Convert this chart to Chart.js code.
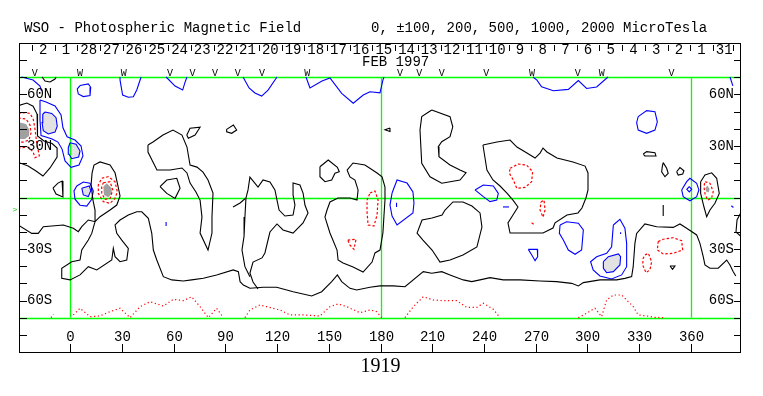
<!DOCTYPE html>
<html><head><meta charset="utf-8">
<script src="https://cdn.jsdelivr.net/npm/chart.js@4.4.1/dist/chart.umd.min.js"></script>
<style>html,body{margin:0;padding:0;background:#fff;}canvas{display:block;}</style>
</head><body>
<canvas id="c" width="763" height="396"></canvas>
<script>
// ---- axis / label data ----
const lonTicks = [0,30,60,90,120,150,180,210,240,270,300,330,360];
const latTicks = [-80,-70,-60,-50,-40,-30,-20,-10,0,10,20,30,40,50,60,70,80];
const latLabels = [[60,'60N'],[30,'30N'],[-30,'30S'],[-60,'60S']];
const gridLons = [0,180,360];
const gridLats = [70,0,-70];
const dayLabels = ['2','1','28','27','26','25','24','23','22','21','20','19','18','17','16','15','14','13','12','11','10','9','8','7','6','5','4','3','2','1','31'];
const dayLons = [-15.5,-2.3,10.8,24.0,37.1,50.3,63.5,76.6,89.8,102.9,116.1,129.3,142.4,155.6,168.7,181.9,195.1,208.2,221.4,234.5,247.7,260.9,274.0,287.2,300.3,313.5,326.7,339.8,353.0,366.1,379.3];
const obsLons = [-20.5,5.8,31.2,58,71,84,97.2,111.3,137.6,191.3,202.5,215.5,241.3,267.8,294.3,308.3,348.7];
const obsMarks = ['V','W','W','V','V','V','V','V','W','V','V','V','V','W','V','W','V'];
const titleLeft = 'WSO - Photospheric Magnetic Field';
const titleRight = '0, \u00B1100, 200, 500, 1000, 2000 MicroTesla';
const monthLabel = ['FEB 1997', 188.4];
const rotationLabel = ['1919', 180];
const b0Lat = -7;

// ---- contour data [longitude, latitude] ----
const neutralLines = [
 [[-30,53.5],[-25,55],[-21.4,53.2],[-19.1,48.6],[-19.1,42.2],[-18.6,35.8],[-15.1,32.9],[-10.4,31.4],[-7.5,28.8],[-7.5,23.6],[-11.6,17.2],[-15.7,12.5],[-19.7,15.4],[-24.3,18.3],[-30,20.5]],
 [[-9.9,5.5],[-7,8.4],[-4.6,9.6],[-4.1,4.4],[-4.1,0.3],[-8.1,2],[-9.9,5.5]],
 [[-30,-16.0],[-22.2,-20.9],[-18.4,-20.9],[-15.5,-17.0],[-3.9,-16.0],[1.9,-17.9],[4.8,-19.9],[6.8,-17.0],[10.6,-13.1],[14.5,-14.1],[17.4,-11.2],[23.2,-7.3],[27.1,-4.4],[29.0,0.9],[27.8,6.7],[26.1,14.4],[23.2,18.9],[17.4,20.7],[13.9,18.9],[12.8,14.3],[12.2,7.3],[13.3,-1.5],[14.5,-7.3],[14.5,-14.1],[12.6,-20.9],[10.6,-24.8],[6.8,-30.6],[5.8,-36.4],[1.0,-37.4],[-4.8,-41.2],[-4.8,-47.0],[0,-48.0],[5.8,-45.1],[10.6,-40.3],[15.5,-42.2],[24.2,-36.4],[25.1,-29.6],[26.1,-34.5],[29.0,-37.4],[32.9,-36.4],[33.8,-29.6],[30.0,-24.8],[27.1,-20.9],[26.1,-16.0],[29.0,-13.1],[33.8,-10.2],[38.7,-8.3],[41.6,-8.3],[45.4,-12.1],[47.4,-20.9],[48.3,-30.6],[50.3,-36.4],[54.1,-46.1],[59.0,-48.0],[65.7,-48.6],[70.5,-48.0],[77.3,-47.0],[85.0,-45.1],[94.6,-42.2],[97.6,-43.2],[98.6,-49.0],[100.5,-51.0],[104.3,-52.9],[112.1,-52.3],[119.8,-52.3],[129.4,-54.9],[140.1,-57.4],[145.9,-54.9],[151.7,-49.0],[155.0,-45.1],[157.5,-49.0],[162.3,-52.9],[166.2,-53.9],[173.9,-52.3],[179.7,-51.5],[187.4,-51.5],[194.2,-52.0],[204.8,-43.2],[209.7,-44.1],[215.5,-43.2],[220.3,-45.1],[228.0,-48.0],[232.9,-49.0],[237.7,-48.0],[243.5,-46.7],[251.2,-48.0],[260.9,-48.0],[272.5,-48.6],[282.1,-49.0],[290.8,-50.0],[294.7,-51.5],[297.6,-49.6],[307.2,-48.0],[316.9,-48.0],[321.7,-47.1],[325.6,-46.1],[326.5,-40.3],[327.5,-26.7],[328.5,-20.9],[333.3,-15.4],[340.1,-17.0],[349.7,-17.4],[353.6,-15.4],[357.5,-17.9],[363.3,-21.8],[365.2,-26.7],[367.1,-34.5],[368.1,-39.3],[371.0,-41.2],[375.8,-41.2],[380.7,-36.4],[382.6,-39.3],[384.5,-43.2],[386,-45.7]],
 [[45.2,30.6],[48.1,32.3],[53.9,36.4],[59.7,39.3],[64.9,36.4],[67.8,29.4],[69.6,18.9],[73.6,17.7],[77.1,14.8],[80.0,10.2],[82.9,2.6],[82.3,-11.4],[82.3,-20.7],[80.0,-30.6],[75.4,-20.7],[76.5,-11.4],[75.4,-1.5],[73.0,3.2],[69.6,8.4],[67.8,14.3],[64.9,17.2],[58.0,16.0],[50.4,16.0],[47.5,21.8],[45.2,26.5],[45.2,30.6]],
 [[67.7,36.4],[69.6,40.3],[75.4,40.9],[72.5,36.4],[68.6,34.5],[67.7,36.4]],
 [[90.8,39.7],[94.7,42.2],[96.6,39.3],[93.7,37.4],[90.8,38.3],[90.8,39.7]],
 [[52.2,6.3],[56.1,10.2],[61.9,11.2],[63.8,5.4],[60.9,-0.5],[56.1,2.4],[52.2,6.3]],
 [[144.9,17.9],[149.7,21.8],[155.0,17.6],[156.1,15.0],[153.6,14.1],[151.7,10.2],[147.8,9.2],[144.9,12.1],[144.9,17.9]],
 [[94.5,-5.5],[98.6,-3.2],[102.0,-0.3],[103.2,4.4],[104.3,11.9],[109.0,6.1],[111.9,10.2],[115.9,9.0],[118.8,4.4],[120.0,-1.5],[121.2,-7.3],[124.6,-10.8],[129.3,-10.2],[130.4,-4.4],[129.3,1.5],[129.3,8.4],[133.3,7.3],[135.1,2.6],[136.2,-4.4],[138.0,-9.0],[135.1,-14.8],[129.3,-20.7],[123.5,-18.9],[120.0,-15.4],[115.9,-20.1],[113.0,-32.3],[111.3,-35.2],[106.1,-37.6],[104.3,-44.0],[106.1,-49.2],[109,-53.3]],
 [[102.0,-0.3],[101.4,-11.4],[100.9,-22.5],[99.7,-30.6],[101.4,-40.3],[104.3,-46.1]],
 [[160.6,16.0],[164.1,20.1],[171.0,18.9],[178.0,14.3],[180.9,12.0],[182.6,6.1],[182.6,-1.5],[182.0,-10.8],[181.4,-20.7],[179.7,-30.6],[176.8,-32.3],[175.1,-37.6],[169.9,-43.4],[164.1,-40.5],[158.3,-38.1],[155.4,-36.4],[154.8,-30.6],[150.7,-20.7],[147.8,-11.4],[149.0,-7.3],[150.7,-2.6],[155.4,-0.3],[162.3,-0.3],[166.4,-1.5],[167.0,4.4],[165.2,10.2],[162.3,12.0],[160.6,16.0]],
 [[209.7,51.0],[220.3,47.1],[221.9,41.2],[220.3,35.4],[215.5,32.5],[213.5,29.6],[213.9,23.8],[220.3,18.9],[226.1,16.0],[229.6,14.4],[226.1,10.2],[215.5,8.3],[208.7,12.1],[203.9,19.9],[202.9,39.3],[203.9,47.1],[209.7,51.0]],
 [[217.4,-7.3],[222.0,-2.6],[227.8,-2.6],[233.0,-5.0],[237.7,-9.0],[238.8,-17.2],[235.9,-28.8],[227.8,-33.5],[220.3,-36.4],[214.5,-37.6],[209.9,-30.6],[204.6,-24.8],[201.2,-20.7],[204.1,-13.1],[209.9,-11.9],[215.7,-10.2],[217.4,-7.3]],
 [[239.4,30.6],[247.5,32.3],[255.1,33.5],[259.1,29.4],[264.9,25.9],[269.6,23.0],[272.5,25.9],[274.2,28.8],[276.5,26.5],[282.3,23.0],[291.6,20.7],[298.6,18.3],[300.3,14.3],[300.3,4.4],[299.1,-0.3],[296.8,-6.1],[294.5,-9.0],[288.1,-10.2],[281.2,-14.8],[280.0,-17.8],[274.2,-20.7],[260.9,-20.7],[255.1,-20.7],[253.9,-14.8],[256.8,-10.2],[259.7,-5.5],[256.8,-1.5],[253.3,2.6],[249.3,6.7],[245.2,10.2],[241.7,16.0],[239.4,30.6]],
 [[332.3,25.3],[334.3,26.7],[339.1,26.1],[339.7,24.2],[333.3,24.2],[332.3,25.3]],
 [[343.9,20.3],[345.9,17.0],[346.8,14.1],[344.9,12.1],[343.0,15.0],[343.4,18.3],[343.9,20.3]],
 [[351.7,15.0],[353.6,17.4],[355.9,15.6],[355.2,13.7],[352.6,13.1],[351.7,15.0]],
 [[365.6,9.2],[368.1,13.1],[372.0,14.4],[374.9,11.2],[376.4,2.4],[373.9,-3.4],[371.0,-7.3],[369.1,-11.2],[367.5,-5.4],[365.6,2.4],[365.6,9.2]],
 [[390,-6.7],[386.7,-13.1],[386.1,-20.1],[390,-23.6]],
 [[343.9,-4.4],[343.9,-10.8]],
 [[347.8,-39.9],[350.7,-39.9],[349.3,-41.8],[347.8,-39.9]],
 [[185.5,40.5],[182.6,39.5],[185.5,38.5],[185.5,40.5]],
 [[-16.2,70.2],[-14.5,67.8],[-11.6,67.3],[-8.7,69.0],[-8.1,70.2]]
];
const positiveLines = [
 [[-28,70.2],[-21.4,68.4],[-17.4,64.9],[-16.5,62]],
 [[-17.4,56.8],[-13.9,55.6],[-8.7,53.3],[-5.2,48.1],[-4.1,40.6],[-1.7,35.4],[2.9,33.5],[6.4,30.0],[7.5,24.2],[5.2,18.9],[0.6,17.6],[-2.9,21.3],[-4.6,28.2],[-7.0,32.3],[-10.4,34.1],[-13.9,35.2],[-16.8,36.1],[-17.4,45.1],[-17.4,56.8]],
 [[-14.5,49.8],[-10.6,49.0],[-8.1,46.5],[-7.4,41.6],[-8.7,38.1],[-12.6,37.0],[-15.5,38.9],[-16.2,43.6],[-15.8,48.5],[-14.5,49.8]],
 [[0,31.9],[3.5,31.0],[5.8,27.1],[5.0,23.6],[1.0,22.6],[-0.6,25.2],[-1.0,29.0],[0,31.9]],
 [[3.9,6.7],[7.7,9.0],[11.6,8.3],[13.5,3.8],[12.6,-1.0],[9.7,-5.0],[5.8,-4.5],[2.9,-1.0],[2.3,3.8],[3.9,6.7]],
 [[6.8,5.4],[11.2,6.7],[12.0,4.0],[10.6,0.5],[7.7,1.5],[6.8,5.4]],
 [[5.8,65.2],[10.6,66.2],[12,64.2],[11.6,59.4],[7.7,58.8],[4.8,60.3],[4.2,63.2],[5.8,65.2]],
 [[29,70.2],[29,68.4],[30.5,59.7],[33.8,58.4],[36.7,58.7],[38.7,62.6],[41.2,70.2]],
 [[55.7,70.2],[60.9,64.9],[65.3,62.6],[66.7,67.2],[67.8,70.2]],
 [[100.3,70.2],[103.8,63.8],[107.2,60.9],[111.1,59.1],[114.8,62.6],[120,70.2]],
 [[136.8,70.2],[139.1,63.8],[146.1,67.8],[150.7,69.6],[157.5,60.7],[164.2,54.9],[170,59.7],[173.9,61.6],[179.7,61],[181.4,68.4],[182,70.2]],
 [[268.4,70.2],[270.7,68.4],[273.4,64.5],[280.2,62.2],[288.9,63],[294.7,68.1],[299.5,63.5],[305.3,64.4],[311.9,70.2]],
 [[382.6,70.2],[384.3,65]],
 [[329.4,47.1],[334.3,50.6],[339.1,50],[340.5,44.1],[339.1,39.3],[334.3,37.4],[329.4,39.3],[328.5,43.6],[329.4,47.1]],
 [[186.7,2.6],[189.6,10.2],[195.4,8.4],[198.8,3.2],[199.4,-3.2],[198.8,-9.0],[189.6,-16.0],[186.7,-10.8],[185.5,-4.4],[186.7,2.6]],
 [[189.3,-3],[189.3,-5.5]],
 [[234.8,4.4],[239.6,7.3],[245.4,6.7],[248.3,2.4],[247.4,-1.5],[243.5,-2.4],[239.6,0.5],[234.8,4.4]],
 [[251,-5.5],[254.5,-5.5]],
 [[284.1,-16.0],[287.9,-14.1],[294.7,-15.0],[297.6,-18.9],[296.6,-30.6],[292.8,-33.1],[288.9,-30.6],[286.0,-24.8],[283.7,-20.9],[284.1,-16.0]],
 [[265.7,-30.2],[270.9,-30.2],[271.1,-34.5],[269.6,-36.8],[267.7,-33.5],[265.7,-30.2]],
 [[315.0,-16.0],[318.8,-12.7],[321.7,-17.9],[322.7,-26.7],[322.7,-40.3],[319.8,-45.1],[314.0,-47.5],[307.2,-45.7],[303.3,-42.2],[301.8,-37.4],[305.3,-34.5],[311.1,-32.5],[314.0,-28.7],[314.6,-20.9],[315.0,-16.0]],
 [[309.2,-37.4],[312.1,-34.5],[317.9,-32.9],[319.2,-34.5],[318.8,-39.3],[315.0,-43.2],[311.1,-43.8],[309.2,-41.2],[309.2,-37.4]],
 [[319.2,-20.2],[319.2,-21.2]],
 [[354.6,4.4],[357.5,9.2],[359.4,11.2],[363.3,8.3],[364.6,4.4],[363.3,0.5],[359.4,-1.9],[355.5,0.5],[354.6,4.4]],
 [[359,6.3],[360.4,4.8],[359,3.3],[357.6,4.8],[359,6.3]],
 [[383.4,-4.8],[384.6,-5.8]],
 [[55.7,-14.3],[55.7,-16.6]]
];
const negativeLines = [
 [[-30,49.0],[-26.1,49.4],[-23.2,49.0],[-21.3,45.5],[-20.3,39.7],[-19.3,31.9],[-17.8,24.2],[-20.3,23.2],[-21.4,26.5],[-24.3,29.4],[-30,28.8]],
 [[-30,46.3],[-25.5,45.7],[-23.2,42.2],[-22.6,37.6],[-23.8,33.5],[-27.2,32.3],[-30,32.3]],
 [[18.4,11.2],[22.2,12.1],[26.1,9.2],[27.4,3.4],[26.1,-0.5],[23.2,-3.4],[19.3,-2.4],[16.4,2.4],[16.4,7.3],[18.4,11.2]],
 [[19.3,8.6],[23.2,9.2],[24.8,4.4],[23.2,-0.5],[20.3,-1.0],[18.4,2.4],[18.4,6.3],[19.3,8.6]],
 [[173.9,2.6],[176.8,3.8],[178.6,-1.5],[178.0,-10.2],[176.2,-16.6],[172.8,-16.0],[172.2,-8.4],[172.2,-1.5],[173.9,2.6]],
 [[161.0,-24.8],[165.8,-24.3],[164.6,-30.2],[162.3,-27.7],[161.0,-24.8]],
 [[255.1,17.0],[259.9,19.5],[264.7,18.9],[268.2,15.0],[267.6,9.2],[263.8,5.9],[259.0,5.4],[257.0,10.2],[254.7,14.1],[255.1,17.0]],
 [[273.0,-2.6],[274.8,-1.5],[275.4,-7.3],[274.2,-11.4],[272.5,-7.3],[273.0,-2.6]],
 [[267.6,-14.7],[269.5,-16.0]],
 [[341.0,-25.7],[343.9,-24.3],[349.7,-23.4],[354.6,-25.2],[355.2,-30.6],[349.7,-32.5],[343.9,-32.9],[340.5,-30.6],[341.0,-25.7]],
 [[333.3,-33.5],[335.3,-32.5],[337.2,-37.4],[336.2,-42.2],[333.9,-43.8],[332.0,-39.3],[332.3,-35.4],[333.3,-33.5]],
 [[368.1,9.2],[371.0,8.3],[372.9,3.4],[371.9,-0.5],[369.6,-1.5],[368.1,2.4],[367.5,6.3],[368.1,9.2]]
];
const polarNegative = [
 [[-11,-70],[-9.6,-68]],
 [[1.9,-68.4],[5.8,-64.5],[11.6,-69.4],[17.4,-69.0],[23.2,-66.5],[29.0,-64.5],[34.8,-70],[40.6,-63.6],[46.4,-60.7],[54.1,-63.2],[59.9,-59.3],[65.7,-60.1],[70.5,-57.8],[75.4,-63.6],[80.2,-70],[85.0,-64.5],[88.9,-70]],
 [[101.4,-70],[104.3,-65.5],[110.1,-62.6],[114.0,-63.6],[121.7,-65.5],[127.5,-68.4],[135.2,-68.4],[144.9,-69.0],[150.7,-63.6],[155.5,-62.0],[160.4,-63.6],[168.1,-67.1],[173.9,-65.5],[177.8,-66.5],[180.7,-70]],
 [[194.2,-70],[199.0,-63.6],[204.8,-57.8],[210.6,-59.7],[216.4,-60.1],[224.2,-60.1],[230.0,-64.0],[235.8,-64.0],[239.6,-61.6],[245.4,-65.1],[249.3,-70]],
 [[294.7,-70],[299.5,-67.4],[304.3,-64.5],[308.2,-69.4],[311.1,-59.7],[315.0,-56.8],[319.8,-56.8],[323.7,-60.7],[326.5,-63.6],[329.4,-68.4],[334.3,-69.0],[339.1,-69.8],[343.9,-70]]
];
const lightFills = [
 [[-14.5,49.8],[-10.6,49.0],[-8.1,46.5],[-7.4,41.6],[-8.7,38.1],[-12.6,37.0],[-15.5,38.9],[-16.2,43.6],[-15.8,48.5]],
 [[0,31.9],[3.5,31.0],[5.8,27.1],[5.0,23.6],[1.0,22.6],[-0.6,25.2],[-1.0,29.0]],
 [[6.8,5.4],[11.2,6.7],[12.0,4.0],[10.6,0.5],[7.7,1.5]],
 [[309.2,-37.4],[312.1,-34.5],[317.9,-32.9],[319.2,-34.5],[318.8,-39.3],[315.0,-43.2],[311.1,-43.8],[309.2,-41.2]]
];
const darkFills = [
 [[-30,44.0],[-25.5,42.8],[-23.5,39.3],[-23.8,35.8],[-26.1,34.1],[-30,34.1]],
 [[19.3,6.3],[21.3,8.3],[24.2,5.4],[24.2,2.4],[22.2,0.1],[19.7,1.5]],
 [[369.5,7],[370.8,5],[370.3,3],[368.7,3.5],[368.4,5.5]]
];

// ---- build datasets ----
const toPts = a => a.map(p => ({x:p[0], y:p[1]}));
const datasets = [];
const addLines = (arr, color, dash, width) => arr.forEach(l => datasets.push({
  data: toPts(l), borderColor: color, borderWidth: width, borderDash: dash,
  showLine: true, pointRadius: 0, fill: false, tension: 0
}));
addLines(neutralLines, '#000000', [], 1.1);
addLines(positiveLines, '#0000ff', [], 1.1);
addLines(negativeLines, '#ff0000', [2.5,2], 1.2);
addLines(polarNegative, '#ff0000', [1.2,2.6], 1.2);

const MONO = '"Liberation Mono", "DejaVu Sans Mono", monospace';

const underlay = {
  id: 'underlay',
  beforeDatasetsDraw(chart) {
    const {ctx, chartArea: a, scales: {x, y}} = chart;
    ctx.save();
    ctx.beginPath(); ctx.rect(a.left, a.top, a.right - a.left, a.bottom - a.top); ctx.clip();
    const poly = (pts, col) => {
      ctx.beginPath();
      pts.forEach((p, i) => { const px = x.getPixelForValue(p[0]), py = y.getPixelForValue(p[1]); i ? ctx.lineTo(px, py) : ctx.moveTo(px, py); });
      ctx.closePath(); ctx.fillStyle = col; ctx.fill();
    };
    lightFills.forEach(p => poly(p, '#e2e2e2'));
    darkFills.forEach(p => poly(p, '#a0a0a0'));
    ctx.strokeStyle = '#00ff00'; ctx.lineWidth = 1.3;
    gridLats.forEach(l => { const py = Math.round(y.getPixelForValue(l)) + 0.5; ctx.beginPath(); ctx.moveTo(a.left, py); ctx.lineTo(a.right, py); ctx.stroke(); });
    gridLons.forEach(l => { const px = Math.round(x.getPixelForValue(l)) + 0.5; ctx.beginPath(); ctx.moveTo(px, y.getPixelForValue(70)); ctx.lineTo(px, y.getPixelForValue(-70)); ctx.stroke(); });
    ctx.restore();
  }
};

const overlay = {
  id: 'overlay',
  afterDraw(chart) {
    const {ctx, chartArea: a, scales: {x, y}} = chart;
    ctx.save();
    ctx.strokeStyle = '#000'; ctx.lineWidth = 1;
    ctx.strokeRect(a.left - 0.5, a.top + 0.5, a.right - a.left, a.bottom - a.top);
    latTicks.forEach(l => {
      const py = Math.round(y.getPixelForValue(l)) + 0.5;
      ctx.beginPath(); ctx.moveTo(a.left, py); ctx.lineTo(a.left + 7, py); ctx.stroke();
      ctx.beginPath(); ctx.moveTo(a.right - 7, py); ctx.lineTo(a.right, py); ctx.stroke();
    });
    ctx.fillStyle = '#000'; ctx.font = '14px ' + MONO; ctx.textBaseline = 'middle';
    latLabels.forEach(([l, t]) => {
      const py = y.getPixelForValue(l);
      ctx.textAlign = 'left'; ctx.fillText(t, a.left + 7, py);
      ctx.textAlign = 'right'; ctx.fillText(t, a.right - 7, py);
    });
    ctx.textAlign = 'center';
    lonTicks.forEach(l => {
      const px = Math.round(x.getPixelForValue(l)) + 0.5;
      ctx.beginPath(); ctx.moveTo(px, a.bottom - 8); ctx.lineTo(px, a.bottom); ctx.stroke();
      ctx.fillText(String(l), px, 337);
    });
    dayLabels.forEach((t, i) => ctx.fillText(t, x.getPixelForValue(dayLons[i]), 50));
    const tickLons = [];
    tickLons.push(dayLons[0] - (dayLons[1] - dayLons[0]) / 2);
    for (let i = 0; i < dayLons.length - 1; i++) tickLons.push((dayLons[i] + dayLons[i + 1]) / 2);
    tickLons.push(dayLons[dayLons.length - 1] + (dayLons[1] - dayLons[0]) / 2 - 1.5);
    tickLons.forEach(l => { const px = Math.round(x.getPixelForValue(l)) + 0.5; ctx.beginPath(); ctx.moveTo(px, 45); ctx.lineTo(px, 51); ctx.stroke(); });
    ctx.textAlign = 'left';
    ctx.fillText(monthLabel[0], x.getPixelForValue(monthLabel[1]) - 33, 62);
    ctx.font = '10px ' + MONO; ctx.textAlign = 'center';
    obsLons.forEach((l, i) => ctx.fillText(obsMarks[i], x.getPixelForValue(l), 73.5));
    ctx.font = '14px ' + MONO; ctx.textAlign = 'left';
    ctx.fillText(titleLeft, 24, 28);
    ctx.fillText(titleRight, 371, 28);
    ctx.font = '20px "Liberation Serif", serif'; ctx.textAlign = 'center';
    ctx.fillText(rotationLabel[0], x.getPixelForValue(rotationLabel[1]), 367);
    ctx.fillStyle = '#00cc00'; ctx.font = '8px ' + MONO;
    ctx.fillText('>', 15, y.getPixelForValue(b0Lat));
    ctx.restore();
  }
};

new Chart(document.getElementById('c'), {
  type: 'scatter',
  data: {datasets},
  options: {
    responsive: false, animation: false, devicePixelRatio: 1, events: [],
    layout: {padding: {left: 20, right: 22, top: 43, bottom: 44}},
    scales: {
      x: {type: 'linear', min: -29, max: 389, display: false},
      y: {type: 'linear', min: -90, max: 90, display: false}
    },
    plugins: {legend: {display: false}, tooltip: {enabled: false}},
    elements: {point: {radius: 0}, line: {tension: 0}}
  },
  plugins: [underlay, overlay]
});
</script>
</body></html>
